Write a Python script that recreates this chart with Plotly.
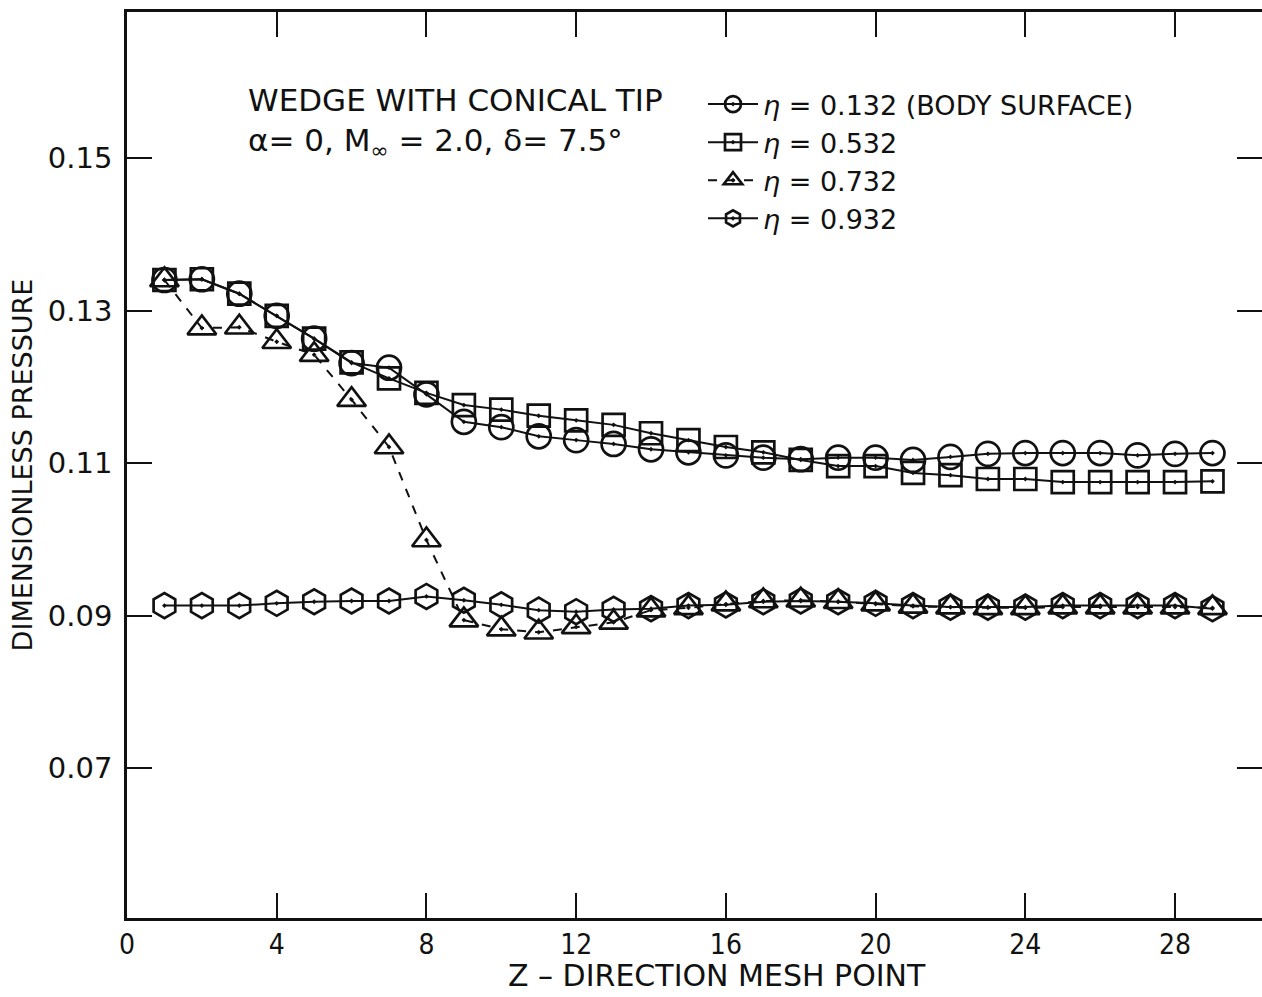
import plotly.graph_objects as go

z = list(range(1, 30))

p_0132 = [0.1340, 0.1341, 0.1322, 0.1293, 0.1263, 0.1231, 0.1225, 0.1190, 0.1154, 0.1147,
          0.1135, 0.1130, 0.1125, 0.1118, 0.1114, 0.1110, 0.1107, 0.1105, 0.1107, 0.1107,
          0.1104, 0.1108, 0.1112, 0.1113, 0.1113, 0.1113, 0.1110, 0.1112, 0.1113]
p_0532 = [0.1340, 0.1341, 0.1322, 0.1293, 0.1263, 0.1232, 0.1211, 0.1192, 0.1176, 0.1170,
          0.1162, 0.1156, 0.1150, 0.1139, 0.1130, 0.1121, 0.1114, 0.1104, 0.1096, 0.1096,
          0.1087, 0.1084, 0.1079, 0.1079, 0.1075, 0.1075, 0.1075, 0.1075, 0.1076]
p_0732 = [0.1340, 0.1277, 0.1278, 0.1259, 0.1242, 0.1183, 0.1121, 0.0999, 0.0894, 0.0882,
          0.0878, 0.0885, 0.0891, 0.0907, 0.0910, 0.0915, 0.0919, 0.0920, 0.0918, 0.0915,
          0.0912, 0.0911, 0.0910, 0.0910, 0.0911, 0.0911, 0.0911, 0.0911, 0.0910]
p_0932 = [0.0913, 0.0913, 0.0913, 0.0916, 0.0918, 0.0919, 0.0919, 0.0925, 0.0920, 0.0914,
          0.0907, 0.0905, 0.0908, 0.0909, 0.0913, 0.0914, 0.0918, 0.0919, 0.0918, 0.0916,
          0.0913, 0.0911, 0.0911, 0.0911, 0.0913, 0.0913, 0.0913, 0.0913, 0.0909]

x_ticks = [0, 4, 8, 12, 16, 20, 24, 28]
y_ticks = [0.07, 0.09, 0.11, 0.13, 0.15]
y_tick_text = ["0.07", "0.09", "0.11", "0.13", "0.15"]

labels = ["<i>η</i> = 0.132 (BODY SURFACE)", "<i>η</i> = 0.532",
          "<i>η</i> = 0.732", "<i>η</i> = 0.932"]

FONT = "'DejaVu Sans', Lato, sans-serif"
NARROW = "'DejaVu Sans Condensed', 'Liberation Sans Narrow', Lato, sans-serif"
BLACK = "#111111"

y_range = [0.07 - 150 / 7625, 0.15 + 146 / 7625]

fig = go.Figure()
series = [
    (p_0532, "square-open-dot", "solid", 22, labels[1]),
    (p_0132, "circle-open-dot", "solid", 24, labels[0]),
    (p_0932, "hexagon-open-dot", "solid", 25, labels[3]),
    (p_0732, "triangle-up-open-dot", "dash", 25, labels[2]),
]
rank = {labels[0]: 1, labels[1]: 2, labels[2]: 3, labels[3]: 4}
for vals, sym, dash, size, name in series:
    fig.add_trace(go.Scatter(
        x=z, y=vals, mode="lines+markers", name=name,
        legendrank=rank[name],
        line=dict(color=BLACK, width=2, dash=dash),
        marker=dict(symbol=sym, size=size, color=BLACK,
                    line=dict(color=BLACK, width=2.7)),
    ))

# invisible companion trace so the right-hand tick axis is drawn
fig.add_trace(go.Scatter(x=[z[0]], y=[p_0932[0]], yaxis="y2", mode="markers",
                         marker=dict(opacity=0), showlegend=False,
                         hoverinfo="skip"))

fig.add_annotation(
    xref="paper", yref="paper", x=(246 - 127) / 1135, y=1 - (80 - 12) / 906,
    xanchor="left", yanchor="top", align="left", showarrow=False,
    text="WEDGE WITH CONICAL TIP<br>α= 0, M<sub>∞</sub> = 2.0, δ= 7.5°",
    font=dict(family=FONT, size=31, color=BLACK))

fig.add_annotation(
    xref="paper", yref="paper", x=(717 - 127) / 1135, y=1 - (975 - 12) / 906,
    xanchor="center", yanchor="middle", showarrow=False,
    text="Z – DIRECTION MESH POINT",
    font=dict(family=FONT, size=30, color=BLACK))

fig.update_layout(
    width=1262, height=997,
    margin=dict(l=127, r=0, t=12, b=79),
    paper_bgcolor="white", plot_bgcolor="white",
    showlegend=True,
    legend=dict(x=(703 - 127) / 1135, y=1 - (80 - 12) / 906,
                xanchor="left", yanchor="top",
                font=dict(family=FONT, size=27, color=BLACK),
                bgcolor="rgba(0,0,0,0)", tracegroupgap=0,
                itemwidth=50),
    xaxis=dict(range=[0, 1135 / 37.43], tickvals=x_ticks,
               ticks="inside", ticklen=25, tickwidth=2, tickcolor=BLACK,
               showline=True, linecolor=BLACK, linewidth=2.5, mirror="ticks",
               showgrid=False, zeroline=False,
               tickfont=dict(family=NARROW, size=28, color=BLACK)),
    yaxis=dict(range=y_range, tickvals=y_ticks, ticktext=y_tick_text,
               ticks="inside", ticklen=25, tickwidth=2, tickcolor=BLACK,
               showline=True, linecolor=BLACK, linewidth=2.5, mirror=False,
               showgrid=False, zeroline=False, ticklabelstandoff=6,
               tickfont=dict(family=FONT, size=29, color=BLACK),
               title=dict(text="DIMENSIONLESS PRESSURE", standoff=8,
                          font=dict(family=FONT, size=27, color=BLACK))),
    yaxis2=dict(range=y_range, overlaying="y", side="right", anchor="x",
                tickvals=y_ticks, ticks="inside", ticklen=25, tickwidth=2,
                tickcolor=BLACK, showticklabels=False, showline=False,
                showgrid=False, zeroline=False),
)

fig.write_html("out.html")
